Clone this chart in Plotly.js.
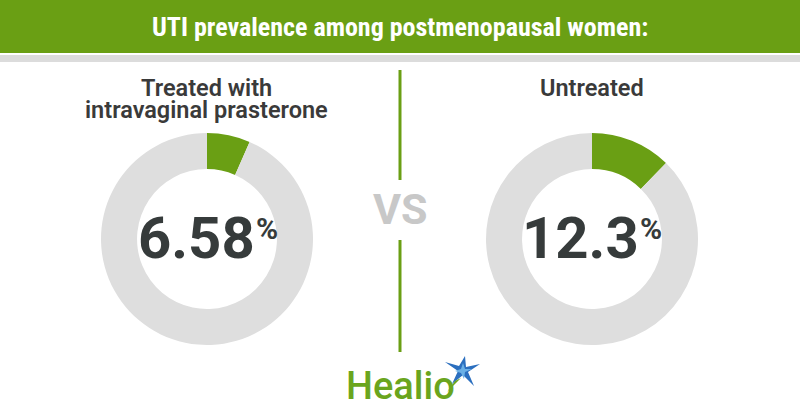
<!DOCTYPE html>
<html><head><meta charset="utf-8">
<script src="https://cdn.plot.ly/plotly-3.0.1.min.js"></script>
<style>html,body{margin:0;padding:0;background:#fff}#chart{width:800px;height:420px}</style>
</head><body><div id="chart"></div>
<script>
// ---- data ----
const groupLines = [["Treated with", "intravaginal prasterone"], ["Untreated"]];
const prevalence = [6.58, 12.3];
const valueLabels = ["6.58", "12.3"];
const titleText = "UTI prevalence among postmenopausal women:";

// ---- helpers (pixel -> paper) ----
const W = 800, H = 420;
const px = x => x / W, py = y => 1 - y / H;

const GREEN = "#6a9f14", RING = "#dedede", DARK = "#363b3b";
const centers = [[207, 239], [592, 239]];
const R = 106;

const traces = prevalence.map((v, i) => ({
  type: "pie",
  values: [v, 100 - v],
  labels: ["UTI", "No UTI"],
  sort: false,
  direction: "clockwise",
  rotation: 0,
  hole: 0.66,
  textinfo: "none",
  hoverinfo: "none",
  marker: {colors: [GREEN, RING], line: {width: 0}},
  domain: {x: [px(centers[i][0] - R), px(centers[i][0] + R)],
           y: [py(centers[i][1] + R), py(centers[i][1] - R)]},
  showlegend: false
}));

const shapes = [
  {type: "rect", xref: "paper", yref: "paper", x0: 0, x1: 1, y0: py(53), y1: 1, fillcolor: GREEN, line: {width: 0}, layer: "below"},
  {type: "rect", xref: "paper", yref: "paper", x0: 0, x1: 1, y0: py(62), y1: py(55), fillcolor: "#dcdcdc", line: {width: 0}, layer: "below"},
  {type: "line", xref: "paper", yref: "paper", x0: px(400), x1: px(400), y0: py(70), y1: py(180), line: {color: GREEN, width: 3}},
  {type: "line", xref: "paper", yref: "paper", x0: px(400), x1: px(400), y0: py(240), y1: py(352), line: {color: GREEN, width: 3}}
];

// Healio star (decorative logo)
function poly(pts, color) {
  return {type: "path", xref: "paper", yref: "paper",
    path: "M" + pts.map(p => px(p[0]) + "," + py(p[1])).join(" L") + " Z",
    fillcolor: color, line: {width: 0}};
}
shapes.push(poly([[465,356],[466,367],[480,364],[468,372],[474,386],[463,375],[452,384],[458,371],[445,362],[459,366]], "#2b6fbf"));
shapes.push(poly([[463,363],[465,369],[472,369],[465,372],[464,379],[461,373],[455,371],[461,369]], "#6ab0e6"));
shapes.push(poly([[455,381],[447,392],[461,378]], "#6aa51e"));

function ann(text, x, y, font, xanchor) {
  return {text, x: px(x), y: py(y), xref: "paper", yref: "paper", showarrow: false,
    xanchor: xanchor || "center", yanchor: "middle", align: "center", font};
}
const annotations = [
  ann("<b>" + titleText + "</b>", 400, 27, {family: "Liberation Sans Narrow, Roboto Condensed, Roboto", size: 26, color: "#ffffff"}),
  ann("VS", 400, 209, {family: "Roboto", size: 43, weight: 700, color: "#c8c8c8"}),
  ann("Healio", 457, 386, {family: "Roboto", size: 38, weight: 500, color: "#6aa51e"}, "right")
];
groupLines.forEach((lines, i) => {
  lines.forEach((ln, j) => {
    annotations.push(ann(ln, centers[i][0], 88 + j * 22.5,
      {family: "Roboto", size: 23.5, weight: 600, color: "#3a3a3a"}));
  });
});
const numRight = [257, 641];
valueLabels.forEach((t, i) => {
  annotations.push(ann(t, numRight[i], 238, {family: "Roboto", size: 58, weight: 700, color: DARK}, "right"));
  annotations.push(ann("%", numRight[i] - 3, 229, {family: "Roboto", size: 30, weight: 700, color: DARK}, "left"));
});

Plotly.newPlot("chart", traces, {
  width: W, height: H, margin: {l: 0, r: 0, t: 0, b: 0},
  paper_bgcolor: "#ffffff", plot_bgcolor: "#ffffff",
  shapes, annotations, showlegend: false
}, {displayModeBar: false, staticPlot: true});
</script></body></html>
